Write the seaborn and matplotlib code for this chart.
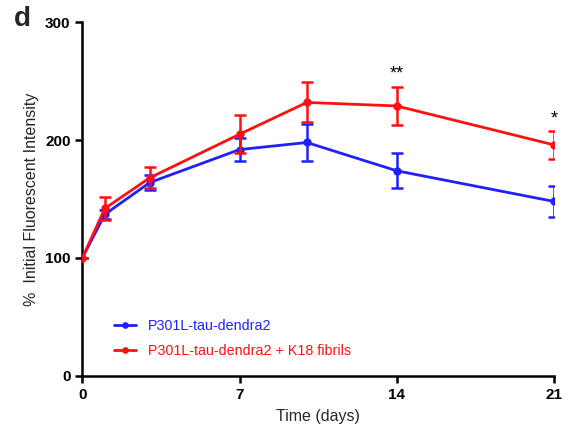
import matplotlib
matplotlib.use("Agg")
import matplotlib.pyplot as plt
import seaborn as sns
import pandas as pd
import numpy as np

days = [0, 1, 3, 7, 10, 14, 21]
blue_name = "P301L-tau-dendra2"
red_name = "P301L-tau-dendra2 + K18 fibrils"
blue_vals = [100, 137, 164, 192, 198, 174, 148]
blue_err = [0, 4, 6, 10, 16, 15, 13]
red_vals = [100, 142, 168, 205, 232, 229, 196]
red_err = [0, 10, 9, 16, 17, 16, 12]
x_ticks = [0, 7, 14, 21]
y_ticks = [0, 100, 200, 300]
stars = [(14, 256, "**"), (21, 218, "*")]

sns.set_theme(style="ticks")
plt.rcParams['font.family'] = ['Liberation Sans', 'DejaVu Sans']

df = pd.DataFrame({
    "day": days + days,
    "value": blue_vals + red_vals,
    "group": [blue_name] * len(days) + [red_name] * len(days),
})

fig = plt.figure(figsize=(5.68, 4.29), dpi=100)
ax = fig.add_axes([0.145, 0.124, 0.830, 0.824])

colors = {blue_name: "#2020ff", red_name: "#ff1010"}

ax.errorbar(days, blue_vals, yerr=blue_err, fmt='none', ecolor=colors[blue_name],
            elinewidth=1.8, capsize=4, capthick=1.8, zorder=2)
ax.errorbar(days, red_vals, yerr=red_err, fmt='none', ecolor=colors[red_name],
            elinewidth=1.8, capsize=4, capthick=1.8, zorder=4)

sns.lineplot(data=df, x="day", y="value", hue="group", palette=colors,
             marker="o", markersize=6, markeredgewidth=0, linewidth=2,
             ax=ax, legend=True, zorder=3)

for x, y, s in stars:
    ax.text(x, y, s, ha="center", va="center", fontsize=13, color="black")

ax.set_xlim(0, 21)
ax.set_ylim(0, 300)
ax.set_xticks(x_ticks)
ax.set_yticks(y_ticks)
for lab in ax.get_xticklabels() + ax.get_yticklabels():
    lab.set_fontweight("bold")
    lab.set_fontsize(11)
ax.set_xlabel("Time (days)", fontsize=11.5, labelpad=5)
ax.set_ylabel("%  Initial Fluorescent Intensity", fontsize=11.5, labelpad=4)
ax.spines["top"].set_visible(False)
ax.spines["right"].set_visible(False)
ax.spines["left"].set_linewidth(1.8)
ax.spines["bottom"].set_linewidth(1.8)
ax.spines["left"].set_color("black")
ax.spines["bottom"].set_color("black")
ax.tick_params(axis="both", width=1.8, length=5, color="black", colors="black")
for sp in ax.spines.values():
    sp.set_clip_on(False)

leg = ax.legend(loc="lower left", bbox_to_anchor=(0.04, 0.015), frameon=False,
                fontsize=10.3, handlelength=1.5, handletextpad=0.85, labelspacing=0.75,
                markerscale=0.8)
for text, name in zip(leg.get_texts(), [blue_name, red_name]):
    text.set_color(colors[name])

fig.text(0.025, 0.955, "d", fontsize=20, fontweight="bold", va="center")

fig.savefig("out.png", dpi=100)
